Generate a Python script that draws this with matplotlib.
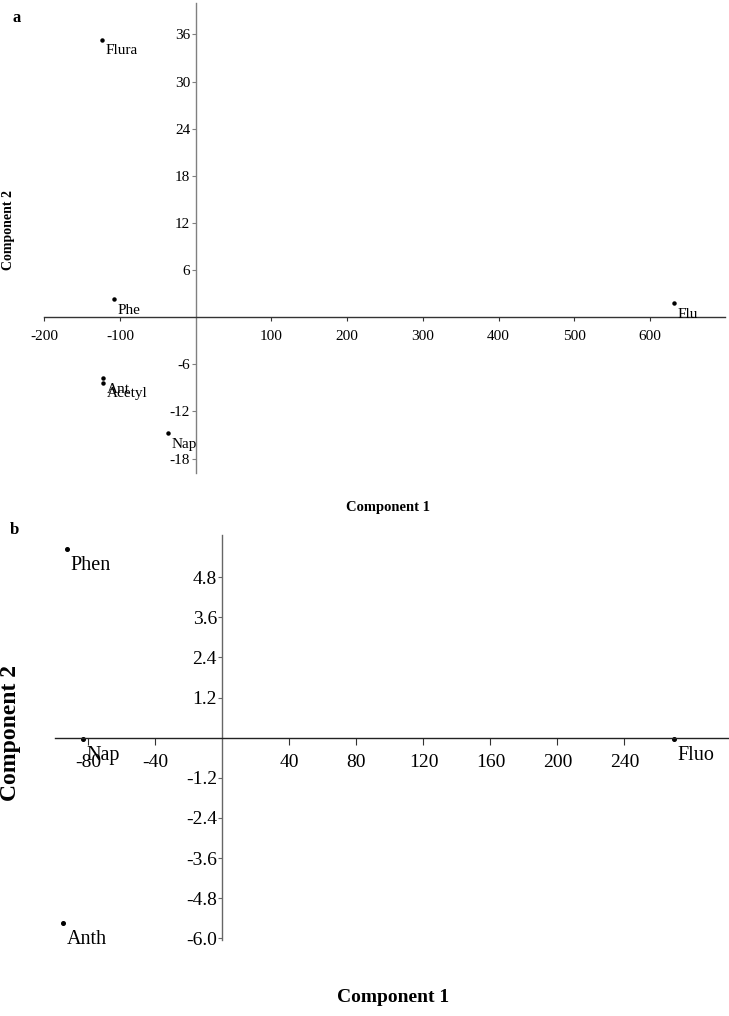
import matplotlib
matplotlib.use("Agg")
import matplotlib.pyplot as plt

plt.rcParams['font.family'] = ['Liberation Serif', 'DejaVu Serif']
plt.rcParams['axes.unicode_minus'] = False

# panel a - PCA scores
a_names = ["Flura", "Phe", "Ant", "Acetyl", "Nap", "Flu"]
a_c1 = [-124, -108, -122.5, -122.5, -36.6, 632]
a_c2 = [35.3, 2.25, -7.8, -8.4, -14.8, 1.74]
a_xticks = [-200, -100, 100, 200, 300, 400, 500, 600]
a_yticks = [-18, -12, -6, 6, 12, 18, 24, 30, 36]

# panel b
b_names = ["Phen", "Nap", "Anth", "Fluo"]
b_c1 = [-92.8, -83.3, -95.2, 269.5]
b_c2 = [5.64, -0.04, -5.54, -0.04]
b_xticks = [-80, -40, 40, 80, 120, 160, 200, 240]
b_yticks = [-6.0, -4.8, -3.6, -2.4, -1.2, 1.2, 2.4, 3.6, 4.8]


def center_axes(ax, xcol, ycol):
    ax.spines['left'].set_position(('data', 0))
    ax.spines['bottom'].set_position(('data', 0))
    ax.spines['top'].set_visible(False)
    ax.spines['right'].set_visible(False)
    ax.spines['left'].set_color(ycol)
    ax.spines['bottom'].set_color(xcol)
    ax.spines['left'].set_linewidth(1.0)
    ax.spines['bottom'].set_linewidth(1.0)
    ax.patch.set_alpha(0)


fig = plt.figure(figsize=(7.29, 10.16), dpi=100)

# ---- a ----
ax1 = fig.add_axes([0.0608, 0.5348, 0.9337, 0.4622])
ax1.plot(a_c1, a_c2, 'o', color='black', markersize=2.2, linestyle='none')
for n, x, y in zip(a_names, a_c1, a_c2):
    ax1.annotate(n, (x, y), xytext=(2.5, -3), textcoords='offset points',
                 va='top', ha='left', fontsize=11)
ax1.set_xlim(-200, 699)
ax1.set_ylim(-19.8, 40)
ax1.set_xticks(a_xticks)
ax1.set_xticklabels([str(t) for t in a_xticks])
ax1.set_yticks(a_yticks)
ax1.set_yticklabels([str(t) for t in a_yticks])
center_axes(ax1, '#333333', '#808080')
ax1.tick_params(axis='x', direction='out', length=3, width=0.8, pad=6,
                labelsize=11, colors='#333333', labelcolor='black')
ax1.tick_params(axis='y', direction='out', length=3, width=0.8, pad=1,
                labelsize=11, colors='#808080', labelcolor='black')
fig.text(0.011, 1 - 230 / 1016, "Component 2", rotation=90, ha='center',
         va='center', fontsize=10, fontweight='bold')
fig.text(388 / 729, 1 - 508 / 1016, "Component 1", ha='center', va='center',
         fontsize=10.5, fontweight='bold')
fig.text(12 / 729, 1 - 18 / 1016, "a", ha='left', va='center', fontsize=12,
         fontweight='bold')

# ---- b ----
ax2 = fig.add_axes([0.0754, 0.0748, 0.9246, 0.3986])
ax2.plot(b_c1, b_c2, 'o', color='black', markersize=2.6, linestyle='none')
for n, x, y in zip(b_names, b_c1, b_c2):
    ax2.annotate(n, (x, y), xytext=(2.5, -5), textcoords='offset points',
                 va='top', ha='left', fontsize=14.5)
ax2.set_xlim(-100, 302.4)
ax2.set_ylim(-6.05, 6.06)
ax2.set_xticks(b_xticks)
ax2.set_xticklabels([str(t) for t in b_xticks])
ax2.set_yticks(b_yticks)
ax2.set_yticklabels(["%.1f" % t for t in b_yticks])
center_axes(ax2, '#222222', '#666666')
ax2.tick_params(axis='x', direction='out', length=5, width=0.8, pad=7,
                labelsize=14, colors='#333333', labelcolor='black')
ax2.tick_params(axis='y', direction='out', length=3, width=0.8, pad=1,
                labelsize=14, colors='#666666', labelcolor='black')
fig.text(0.014, 1 - 733 / 1016, "Component 2", rotation=90, ha='center',
         va='center', fontsize=17, fontweight='bold')
fig.text(393 / 729, 1 - 997 / 1016, "Component 1", ha='center', va='center',
         fontsize=14, fontweight='bold')
fig.text(10 / 729, 1 - 530 / 1016, "b", ha='left', va='center', fontsize=12,
         fontweight='bold')

fig.savefig("out.png", dpi=100)
